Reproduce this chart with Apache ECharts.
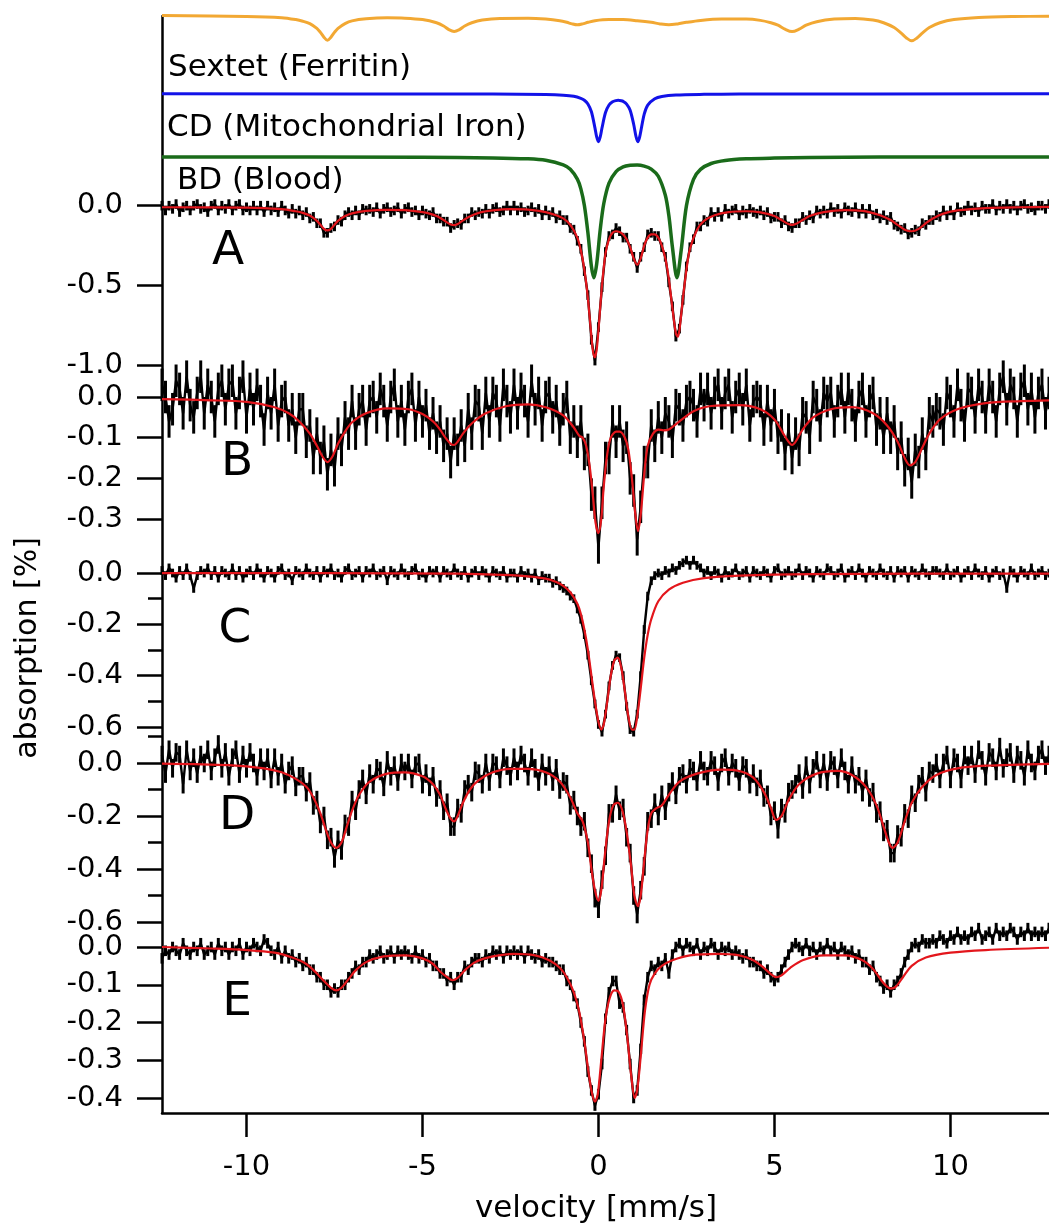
<!DOCTYPE html>
<html>
<head>
<meta charset="utf-8">
<script src="https://cdn.jsdelivr.net/npm/echarts@6.0.0/dist/echarts.min.js"></script>
<style>
html, body { margin: 0; padding: 0; background: #ffffff; }
#chart { width: 1049px; height: 1226px; }
</style>
</head>
<body>
<div id="chart"></div>
<script>
// Velocity channels of the spectrometer (mm/s)
const velocity = [
-12.4,-12.3,-12.2,-12.1,-12.0,-11.9,-11.8,-11.7,-11.6,-11.5,
-11.4,-11.3,-11.2,-11.1,-11.0,-10.9,-10.8,-10.7,-10.6,-10.5,
-10.4,-10.3,-10.2,-10.1,-10.0,-9.9,-9.8,-9.7,-9.6,-9.5,
-9.4,-9.3,-9.2,-9.1,-9.0,-8.9,-8.8,-8.7,-8.6,-8.5,
-8.4,-8.3,-8.2,-8.1,-8.0,-7.9,-7.8,-7.7,-7.6,-7.5,
-7.4,-7.3,-7.2,-7.1,-7.0,-6.9,-6.8,-6.7,-6.6,-6.5,
-6.4,-6.3,-6.2,-6.1,-6.0,-5.9,-5.8,-5.7,-5.6,-5.5,
-5.4,-5.3,-5.2,-5.1,-5.0,-4.9,-4.8,-4.7,-4.6,-4.5,
-4.4,-4.3,-4.2,-4.1,-4.0,-3.9,-3.8,-3.7,-3.6,-3.5,
-3.4,-3.3,-3.2,-3.1,-3.0,-2.9,-2.8,-2.7,-2.6,-2.5,
-2.4,-2.3,-2.2,-2.1,-2.0,-1.9,-1.8,-1.7,-1.6,-1.5,
-1.4,-1.3,-1.2,-1.1,-1.0,-0.9,-0.8,-0.7,-0.6,-0.5,
-0.4,-0.3,-0.2,-0.1,0.0,0.1,0.2,0.3,0.4,0.5,
0.6,0.7,0.8,0.9,1.0,1.1,1.2,1.3,1.4,1.5,
1.6,1.7,1.8,1.9,2.0,2.1,2.2,2.3,2.4,2.5,
2.6,2.7,2.8,2.9,3.0,3.1,3.2,3.3,3.4,3.5,
3.6,3.7,3.8,3.9,4.0,4.1,4.2,4.3,4.4,4.5,
4.6,4.7,4.8,4.9,5.0,5.1,5.2,5.3,5.4,5.5,
5.6,5.7,5.8,5.9,6.0,6.1,6.2,6.3,6.4,6.5,
6.6,6.7,6.8,6.9,7.0,7.1,7.2,7.3,7.4,7.5,
7.6,7.7,7.8,7.9,8.0,8.1,8.2,8.3,8.4,8.5,
8.6,8.7,8.8,8.9,9.0,9.1,9.2,9.3,9.4,9.5,
9.6,9.7,9.8,9.9,10.0,10.1,10.2,10.3,10.4,10.5,
10.6,10.7,10.8,10.9,11.0,11.1,11.2,11.3,11.4,11.5,
11.6,11.7,11.8,11.9,12.0,12.1,12.2,12.3,12.4,12.5,
12.6,12.7,12.8
];

// Measured absorption (%) per channel, spectra A-E
const absorbA = [
0.00,-0.03,0.00,-0.02,0.01,-0.04,-0.01,0.00,-0.03,0.00,
0.01,-0.02,-0.01,-0.04,0.00,0.01,-0.03,0.00,-0.02,0.01,
-0.03,0.00,0.01,-0.03,-0.01,-0.03,0.00,-0.03,0.00,-0.04,
0.00,-0.03,-0.01,-0.04,0.00,-0.03,-0.05,-0.02,-0.05,-0.03,
-0.06,-0.04,-0.08,-0.07,-0.11,-0.11,-0.17,-0.17,-0.14,-0.13,
-0.09,-0.10,-0.06,-0.04,-0.06,-0.03,-0.06,-0.02,-0.03,-0.02,
-0.04,-0.01,-0.05,-0.02,-0.01,-0.04,-0.03,-0.01,-0.05,-0.02,
-0.01,-0.04,-0.03,-0.06,-0.03,-0.05,-0.06,-0.04,-0.08,-0.08,
-0.10,-0.10,-0.14,-0.12,-0.11,-0.12,-0.08,-0.08,-0.04,-0.06,
-0.04,-0.05,-0.02,-0.05,-0.02,-0.01,-0.04,-0.03,0.00,-0.03,
0.00,-0.03,-0.01,-0.04,-0.03,-0.01,-0.04,-0.02,-0.06,-0.03,
-0.06,-0.04,-0.08,-0.06,-0.09,-0.09,-0.14,-0.15,-0.22,-0.27,
-0.41,-0.56,-0.84,-0.97,-0.76,-0.51,-0.29,-0.19,-0.18,-0.14,
-0.16,-0.20,-0.20,-0.27,-0.32,-0.39,-0.32,-0.26,-0.18,-0.17,
-0.19,-0.19,-0.26,-0.32,-0.48,-0.63,-0.82,-0.77,-0.59,-0.38,
-0.26,-0.21,-0.13,-0.13,-0.09,-0.10,-0.04,-0.07,-0.04,-0.07,
-0.02,-0.05,-0.03,-0.02,-0.06,-0.03,-0.05,-0.02,-0.04,-0.05,
-0.03,-0.06,-0.04,-0.08,-0.07,-0.07,-0.11,-0.09,-0.13,-0.14,
-0.11,-0.11,-0.07,-0.09,-0.06,-0.08,-0.03,-0.05,-0.03,-0.05,
-0.01,-0.04,-0.02,-0.05,-0.01,-0.03,-0.04,-0.01,-0.05,-0.02,
-0.05,-0.02,-0.06,-0.05,-0.08,-0.06,-0.09,-0.07,-0.12,-0.13,
-0.15,-0.14,-0.18,-0.17,-0.15,-0.16,-0.11,-0.12,-0.09,-0.09,
-0.06,-0.07,-0.03,-0.06,-0.03,-0.06,-0.01,-0.04,-0.03,0.00,
-0.03,-0.01,-0.04,0.00,-0.02,-0.02,0.01,-0.03,0.00,-0.02,
0.01,-0.02,0.00,-0.03,0.00,0.01,-0.02,-0.01,-0.03,0.00,
0.00,-0.02,0.01
];
const absorbB = [
0.03,0.00,-0.06,-0.03,0.04,0.02,-0.04,0.05,-0.02,-0.05,
0.01,0.05,-0.04,0.03,0.00,-0.06,0.02,0.04,-0.03,0.03,
0.04,-0.04,0.01,0.05,-0.05,0.02,-0.03,0.03,-0.01,-0.08,
0.01,-0.04,0.03,-0.07,-0.01,0.00,-0.07,-0.03,-0.10,-0.03,
-0.03,-0.11,-0.07,-0.15,-0.09,-0.15,-0.11,-0.19,-0.13,-0.18,
-0.09,-0.13,-0.05,-0.09,-0.01,-0.09,-0.03,-0.01,-0.08,-0.01,
0.00,-0.05,0.02,-0.01,-0.07,0.00,0.03,-0.06,-0.01,-0.08,
0.00,0.02,-0.07,0.00,-0.06,-0.02,-0.09,-0.04,-0.10,-0.06,
-0.12,-0.09,-0.16,-0.09,-0.13,-0.07,-0.12,-0.03,-0.09,-0.01,
-0.02,-0.09,0.01,-0.06,0.01,-0.01,-0.07,0.03,-0.01,-0.05,
0.03,-0.04,0.02,-0.01,-0.06,0.04,-0.03,0.01,-0.07,0.00,
0.01,-0.05,-0.01,-0.08,-0.03,0.00,-0.10,-0.06,-0.11,-0.06,
-0.14,-0.13,-0.24,-0.26,-0.37,-0.26,-0.15,-0.15,-0.06,-0.11,
-0.06,-0.12,-0.10,-0.20,-0.23,-0.35,-0.27,-0.16,-0.16,-0.07,
-0.12,-0.05,-0.10,-0.04,-0.06,-0.11,-0.02,-0.03,-0.07,-0.01,
0.00,-0.02,-0.06,0.02,-0.02,0.02,-0.04,0.01,0.03,-0.04,
0.01,0.03,-0.05,0.00,0.02,-0.03,0.03,-0.07,-0.01,0.00,
-0.01,-0.08,-0.01,-0.07,-0.02,-0.10,-0.07,-0.14,-0.08,-0.15,
-0.09,-0.13,-0.04,-0.05,-0.10,0.00,-0.02,-0.07,0.01,-0.01,
0.01,-0.06,-0.01,0.02,-0.05,0.02,-0.02,-0.07,0.00,0.02,
-0.06,-0.01,0.01,-0.08,-0.04,-0.10,-0.04,-0.10,-0.06,-0.14,
-0.10,-0.18,-0.14,-0.21,-0.13,-0.16,-0.09,-0.14,-0.04,-0.06,
-0.03,-0.04,-0.08,0.01,-0.01,-0.06,0.03,-0.02,-0.07,0.02,
0.01,-0.05,0.03,0.00,-0.05,0.03,0.00,-0.06,0.02,0.05,
-0.03,0.03,0.01,-0.06,0.02,0.04,-0.03,0.02,-0.05,0.01,
0.03,-0.04,0.01
];
const absorbC = [
0.01,-0.01,0.02,0.00,-0.02,0.01,-0.01,0.02,-0.01,-0.06,
-0.01,0.01,0.00,0.02,-0.01,0.01,-0.02,0.01,0.00,-0.01,
0.02,-0.01,0.01,-0.02,0.00,0.01,-0.01,0.02,0.00,-0.02,
0.01,0.00,-0.02,0.01,0.02,-0.01,0.00,-0.03,0.01,0.00,
-0.01,0.02,0.00,-0.01,0.01,-0.02,0.01,0.00,0.02,-0.01,
0.00,-0.02,0.01,0.02,-0.01,0.00,0.01,-0.02,0.01,0.00,
0.02,-0.01,0.00,0.01,-0.03,0.01,0.00,-0.01,0.02,0.00,
-0.01,0.01,0.02,-0.01,0.00,-0.02,0.01,0.00,0.01,-0.02,
0.01,0.00,-0.01,0.02,0.00,-0.01,0.01,-0.02,0.00,0.01,
-0.01,0.01,0.00,-0.02,0.01,0.00,-0.01,0.01,-0.02,0.00,
0.00,-0.02,0.01,-0.01,0.00,-0.02,0.00,-0.03,-0.01,-0.02,
-0.02,-0.04,-0.03,-0.05,-0.06,-0.07,-0.09,-0.10,-0.14,-0.18,
-0.24,-0.32,-0.42,-0.51,-0.59,-0.62,-0.55,-0.44,-0.36,-0.32,
-0.33,-0.40,-0.52,-0.61,-0.62,-0.55,-0.40,-0.22,-0.09,-0.03,
-0.01,0.00,-0.01,0.01,0.00,0.02,0.01,0.03,0.04,0.05,
0.03,0.05,0.03,0.02,0.00,0.01,-0.01,0.01,0.00,-0.02,
0.01,-0.01,0.00,0.02,-0.01,0.00,0.01,-0.02,0.01,0.00,
-0.01,0.01,0.00,-0.02,0.01,0.02,-0.01,0.00,0.01,-0.01,
0.00,0.02,-0.01,0.01,0.00,-0.02,0.01,0.00,-0.01,0.02,
0.01,-0.01,0.00,0.02,-0.02,0.00,0.01,-0.01,0.02,0.00,
-0.02,0.01,0.00,-0.01,0.02,0.00,-0.01,0.01,-0.02,0.01,
0.00,0.01,-0.02,0.01,0.00,-0.01,0.02,0.00,-0.01,0.01,
0.01,0.00,-0.01,0.02,-0.01,0.00,0.01,-0.02,0.00,0.01,
-0.01,0.02,0.00,-0.01,0.01,-0.02,0.00,0.01,-0.01,0.00,
-0.06,0.01,0.00,-0.02,0.01,0.00,-0.01,0.02,-0.01,0.00,
0.01,-0.01,0.00
];
const absorbD = [
0.03,-0.04,0.05,-0.02,0.04,0.03,-0.08,0.05,-0.03,0.02,
-0.04,0.03,0.00,0.05,-0.03,0.02,0.07,-0.02,0.04,-0.05,
0.02,0.05,-0.04,0.03,-0.02,0.04,0.00,-0.05,0.02,-0.03,
0.02,-0.06,0.02,-0.05,0.00,-0.08,-0.03,-0.01,-0.09,-0.05,
-0.05,-0.11,-0.07,-0.16,-0.14,-0.23,-0.20,-0.29,-0.28,-0.36,
-0.29,-0.33,-0.23,-0.24,-0.14,-0.18,-0.10,-0.06,-0.12,-0.04,
-0.08,-0.02,-0.03,-0.09,0.01,-0.05,-0.01,-0.07,0.00,-0.03,
0.00,-0.06,-0.01,0.00,-0.08,-0.04,-0.09,-0.05,-0.13,-0.10,
-0.18,-0.15,-0.24,-0.24,-0.17,-0.19,-0.10,-0.08,-0.11,-0.03,
-0.04,-0.08,0.00,-0.07,0.00,-0.01,-0.06,0.02,-0.01,-0.05,
0.02,-0.03,0.03,0.00,-0.05,0.02,-0.02,-0.07,0.00,-0.05,
-0.01,-0.07,-0.02,-0.10,-0.07,-0.08,-0.16,-0.14,-0.20,-0.24,
-0.22,-0.32,-0.38,-0.51,-0.55,-0.44,-0.35,-0.19,-0.19,-0.12,
-0.18,-0.17,-0.28,-0.34,-0.50,-0.57,-0.48,-0.39,-0.22,-0.21,
-0.15,-0.20,-0.12,-0.18,-0.11,-0.07,-0.12,-0.05,-0.04,-0.08,
-0.02,-0.03,-0.07,0.01,-0.03,-0.05,0.01,-0.01,-0.07,0.00,
0.02,-0.05,0.00,-0.02,-0.07,-0.01,-0.02,-0.08,-0.04,-0.09,
-0.06,-0.13,-0.12,-0.20,-0.18,-0.25,-0.17,-0.19,-0.11,-0.10,
-0.08,-0.04,-0.10,-0.01,-0.08,-0.02,0.01,-0.06,0.00,-0.07,
0.01,-0.01,-0.06,0.02,-0.03,-0.08,-0.01,-0.08,-0.05,-0.11,
-0.06,-0.13,-0.11,-0.19,-0.18,-0.26,-0.25,-0.34,-0.34,-0.27,
-0.28,-0.19,-0.21,-0.12,-0.15,-0.08,-0.05,-0.11,-0.03,-0.04,
0.00,-0.06,0.00,0.03,-0.06,0.02,0.00,-0.06,0.03,-0.01,
0.03,-0.04,0.05,0.01,-0.05,0.04,0.02,-0.03,0.06,-0.02,
0.02,0.04,-0.04,0.03,0.01,-0.05,0.05,0.00,-0.03,0.03,
0.05,-0.01,0.03
];
const absorbE = [
-0.03,-0.01,-0.02,0.00,-0.01,-0.02,0.01,-0.01,-0.02,0.00,
-0.01,0.01,-0.02,-0.01,0.00,-0.02,0.01,-0.01,0.00,-0.02,
0.00,-0.01,0.01,-0.02,0.00,-0.01,0.01,0.00,-0.01,0.02,
0.01,-0.01,-0.02,0.00,-0.03,-0.01,-0.03,-0.02,-0.04,-0.03,
-0.05,-0.04,-0.06,-0.06,-0.08,-0.08,-0.10,-0.10,-0.12,-0.11,
-0.12,-0.10,-0.10,-0.08,-0.07,-0.05,-0.06,-0.04,-0.04,-0.02,
-0.03,-0.02,-0.01,-0.03,-0.02,-0.01,-0.03,-0.01,-0.02,-0.01,
-0.02,-0.03,-0.01,-0.03,-0.02,-0.04,-0.03,-0.05,-0.05,-0.07,
-0.07,-0.09,-0.08,-0.10,-0.08,-0.08,-0.05,-0.06,-0.04,-0.03,
-0.03,-0.04,-0.02,-0.03,-0.01,-0.02,-0.01,-0.03,-0.01,-0.02,
-0.01,-0.02,-0.01,-0.03,-0.01,-0.02,-0.03,-0.02,-0.04,-0.03,
-0.04,-0.04,-0.05,-0.06,-0.06,-0.09,-0.10,-0.13,-0.15,-0.20,
-0.25,-0.33,-0.38,-0.42,-0.39,-0.31,-0.19,-0.12,-0.09,-0.09,
-0.15,-0.16,-0.22,-0.31,-0.40,-0.38,-0.27,-0.14,-0.08,-0.05,
-0.06,-0.04,-0.05,-0.03,-0.07,-0.02,0.00,0.01,-0.01,0.01,
0.00,-0.01,0.01,-0.02,0.00,-0.01,0.01,0.00,-0.02,0.00,
-0.01,0.00,-0.02,-0.01,-0.02,-0.03,-0.02,-0.04,-0.04,-0.05,
-0.05,-0.07,-0.06,-0.08,-0.09,-0.08,-0.06,-0.04,-0.02,0.00,
0.01,0.00,-0.01,0.01,-0.01,0.00,-0.02,0.00,-0.01,0.01,
-0.01,0.00,-0.02,0.00,-0.01,-0.02,-0.01,-0.03,-0.02,-0.04,
-0.04,-0.06,-0.05,-0.08,-0.09,-0.11,-0.10,-0.12,-0.10,-0.09,
-0.07,-0.04,-0.02,0.00,0.01,0.00,0.02,0.01,0.01,0.02,
0.01,0.03,0.02,0.01,0.03,0.02,0.04,0.02,0.03,0.02,
0.04,0.03,0.05,0.02,0.03,0.04,0.02,0.05,0.03,0.04,
0.03,0.05,0.04,0.02,0.04,0.03,0.05,0.03,0.04,0.03,
0.04,0.03,0.05
];

// Statistical uncertainty (half error bar, %) of each spectrum
const errA = 0.03, errB = 0.04, errC = 0.017, errD = 0.035, errE = 0.014;

// Fitted transmission curves [velocity, absorption]
const fitA = [[-12.4,-0.01],[-10,-0.012],[-9,-0.022],[-8.6,-0.035],[-8.4,-0.045],[-8.2,-0.062],[-8.0,-0.095],[-7.9,-0.12],[-7.8,-0.145],[-7.7,-0.155],[-7.6,-0.145],[-7.5,-0.12],[-7.4,-0.095],[-7.2,-0.065],[-7.0,-0.048],[-6.6,-0.033],[-6.0,-0.026],[-5.5,-0.028],[-5.0,-0.04],[-4.8,-0.05],[-4.6,-0.065],[-4.4,-0.09],[-4.3,-0.105],[-4.2,-0.118],[-4.1,-0.122],[-4.0,-0.115],[-3.9,-0.1],[-3.7,-0.072],[-3.4,-0.045],[-3.0,-0.03],[-2.5,-0.022],[-2.0,-0.025],[-1.5,-0.04],[-1.2,-0.06],[-1.0,-0.08],[-0.8,-0.12],[-0.6,-0.2],[-0.5,-0.28],[-0.4,-0.4],[-0.3,-0.58],[-0.2,-0.82],[-0.15,-0.92],[-0.1,-0.95],[-0.05,-0.9],[0.0,-0.78],[0.1,-0.5],[0.2,-0.3],[0.3,-0.21],[0.4,-0.17],[0.5,-0.16],[0.6,-0.165],[0.7,-0.18],[0.8,-0.21],[0.9,-0.26],[1.0,-0.33],[1.1,-0.37],[1.2,-0.33],[1.3,-0.25],[1.4,-0.2],[1.5,-0.18],[1.6,-0.18],[1.7,-0.2],[1.8,-0.25],[1.9,-0.33],[2.0,-0.46],[2.1,-0.64],[2.2,-0.8],[2.25,-0.82],[2.3,-0.78],[2.4,-0.58],[2.5,-0.4],[2.6,-0.27],[2.8,-0.15],[3.0,-0.095],[3.3,-0.06],[3.7,-0.04],[4.2,-0.035],[4.6,-0.042],[5.0,-0.065],[5.2,-0.09],[5.4,-0.115],[5.5,-0.12],[5.6,-0.115],[5.8,-0.09],[6.0,-0.065],[6.4,-0.04],[7.0,-0.028],[7.5,-0.032],[8.0,-0.06],[8.3,-0.09],[8.5,-0.12],[8.7,-0.15],[8.9,-0.16],[9.1,-0.145],[9.3,-0.11],[9.5,-0.08],[9.8,-0.05],[10.2,-0.03],[11.0,-0.015],[12.0,-0.01],[12.8,-0.008]];
const fitB = [[-12.4,-0.005],[-11,-0.008],[-10,-0.012],[-9.2,-0.025],[-8.8,-0.04],[-8.5,-0.06],[-8.2,-0.09],[-8.0,-0.12],[-7.85,-0.145],[-7.7,-0.16],[-7.55,-0.145],[-7.4,-0.115],[-7.2,-0.085],[-7.0,-0.062],[-6.6,-0.04],[-6.0,-0.028],[-5.4,-0.03],[-5.0,-0.042],[-4.7,-0.06],[-4.5,-0.08],[-4.35,-0.1],[-4.2,-0.115],[-4.1,-0.118],[-4.0,-0.11],[-3.85,-0.09],[-3.6,-0.065],[-3.2,-0.04],[-2.6,-0.022],[-2.0,-0.018],[-1.5,-0.025],[-1.0,-0.045],[-0.7,-0.075],[-0.55,-0.095],[-0.45,-0.1],[-0.35,-0.12],[-0.25,-0.17],[-0.15,-0.25],[-0.08,-0.31],[0.0,-0.335],[0.08,-0.3],[0.15,-0.22],[0.25,-0.14],[0.35,-0.1],[0.5,-0.085],[0.6,-0.085],[0.75,-0.1],[0.85,-0.13],[0.95,-0.2],[1.05,-0.29],[1.12,-0.33],[1.2,-0.29],[1.3,-0.19],[1.4,-0.12],[1.55,-0.09],[1.7,-0.08],[1.85,-0.082],[2.0,-0.08],[2.3,-0.06],[2.7,-0.035],[3.2,-0.022],[4.0,-0.02],[4.6,-0.03],[5.0,-0.055],[5.25,-0.09],[5.4,-0.11],[5.5,-0.118],[5.6,-0.11],[5.8,-0.08],[6.1,-0.05],[6.6,-0.03],[7.2,-0.025],[7.8,-0.04],[8.2,-0.07],[8.5,-0.11],[8.7,-0.15],[8.85,-0.168],[9.0,-0.16],[9.2,-0.125],[9.4,-0.09],[9.7,-0.055],[10.2,-0.03],[11,-0.015],[12,-0.01],[12.8,-0.008]];
const fitC = [[-12.4,0],[-4,-0.002],[-2.5,-0.008],[-2.0,-0.013],[-1.5,-0.022],[-1.2,-0.035],[-1.0,-0.05],[-0.8,-0.075],[-0.6,-0.12],[-0.5,-0.16],[-0.4,-0.22],[-0.3,-0.3],[-0.2,-0.4],[-0.1,-0.5],[0.0,-0.58],[0.08,-0.61],[0.15,-0.59],[0.25,-0.5],[0.35,-0.4],[0.45,-0.34],[0.55,-0.33],[0.65,-0.37],[0.75,-0.46],[0.85,-0.56],[0.95,-0.61],[1.02,-0.61],[1.1,-0.56],[1.2,-0.45],[1.3,-0.33],[1.4,-0.24],[1.5,-0.18],[1.7,-0.11],[2.0,-0.065],[2.4,-0.038],[3.0,-0.02],[4.0,-0.01],[6,-0.004],[12.8,-0.002]];
const fitD = [[-12.4,-0.002],[-10.5,-0.008],[-9.5,-0.02],[-9.0,-0.035],[-8.6,-0.06],[-8.3,-0.09],[-8.1,-0.13],[-7.9,-0.19],[-7.75,-0.25],[-7.6,-0.3],[-7.45,-0.32],[-7.3,-0.3],[-7.15,-0.24],[-7.0,-0.18],[-6.8,-0.12],[-6.5,-0.07],[-6.0,-0.04],[-5.5,-0.035],[-5.0,-0.05],[-4.7,-0.08],[-4.5,-0.12],[-4.35,-0.17],[-4.2,-0.21],[-4.1,-0.22],[-4.0,-0.2],[-3.85,-0.15],[-3.65,-0.1],[-3.4,-0.065],[-3.0,-0.035],[-2.5,-0.022],[-2.0,-0.022],[-1.5,-0.035],[-1.1,-0.07],[-0.8,-0.13],[-0.6,-0.19],[-0.45,-0.22],[-0.3,-0.3],[-0.2,-0.4],[-0.1,-0.48],[0.0,-0.52],[0.08,-0.48],[0.18,-0.35],[0.3,-0.22],[0.42,-0.16],[0.55,-0.15],[0.68,-0.18],[0.8,-0.26],[0.92,-0.38],[1.02,-0.5],[1.12,-0.54],[1.2,-0.5],[1.3,-0.37],[1.4,-0.25],[1.5,-0.19],[1.65,-0.17],[1.8,-0.16],[2.0,-0.12],[2.3,-0.07],[2.8,-0.04],[3.5,-0.025],[4.0,-0.03],[4.4,-0.055],[4.7,-0.11],[4.9,-0.17],[5.05,-0.215],[5.2,-0.2],[5.4,-0.14],[5.7,-0.08],[6.2,-0.04],[6.8,-0.03],[7.2,-0.045],[7.6,-0.09],[7.9,-0.16],[8.1,-0.24],[8.25,-0.3],[8.35,-0.32],[8.5,-0.3],[8.7,-0.22],[8.9,-0.15],[9.2,-0.09],[9.6,-0.045],[10.2,-0.02],[11.0,-0.01],[12.8,-0.003]];
const fitE = [[-12.4,0.0],[-11,-0.004],[-10,-0.008],[-9.2,-0.015],[-8.7,-0.028],[-8.3,-0.045],[-8.0,-0.07],[-7.8,-0.09],[-7.6,-0.108],[-7.45,-0.115],[-7.3,-0.108],[-7.1,-0.085],[-6.9,-0.062],[-6.6,-0.04],[-6.1,-0.025],[-5.5,-0.022],[-5.0,-0.03],[-4.7,-0.045],[-4.5,-0.065],[-4.3,-0.08],[-4.15,-0.088],[-4.0,-0.082],[-3.8,-0.062],[-3.5,-0.04],[-3.0,-0.025],[-2.4,-0.018],[-1.8,-0.022],[-1.4,-0.035],[-1.1,-0.055],[-0.9,-0.08],[-0.7,-0.12],[-0.55,-0.17],[-0.4,-0.25],[-0.3,-0.32],[-0.2,-0.38],[-0.1,-0.41],[-0.02,-0.39],[0.08,-0.3],[0.2,-0.19],[0.32,-0.135],[0.45,-0.115],[0.58,-0.12],[0.7,-0.155],[0.82,-0.24],[0.93,-0.34],[1.03,-0.4],[1.1,-0.38],[1.2,-0.29],[1.32,-0.17],[1.45,-0.1],[1.6,-0.07],[1.8,-0.05],[2.1,-0.035],[2.6,-0.022],[3.4,-0.018],[4.0,-0.022],[4.4,-0.035],[4.7,-0.055],[4.9,-0.072],[5.05,-0.08],[5.2,-0.075],[5.45,-0.055],[5.8,-0.035],[6.4,-0.022],[7.0,-0.022],[7.5,-0.035],[7.8,-0.058],[8.05,-0.09],[8.2,-0.105],[8.3,-0.11],[8.45,-0.105],[8.65,-0.08],[8.9,-0.05],[9.3,-0.028],[10.0,-0.015],[11,-0.008],[12.8,-0.002]];

// Sub-spectra of the fit to spectrum A (absorption relative to their own baseline)
const compSextet = [[-12.4,0],[-10,-0.005],[-9,-0.013],[-8.6,-0.025],[-8.4,-0.035],[-8.2,-0.05],[-8.0,-0.08],[-7.9,-0.105],[-7.8,-0.135],[-7.7,-0.155],[-7.6,-0.135],[-7.5,-0.105],[-7.4,-0.08],[-7.2,-0.05],[-7.0,-0.033],[-6.6,-0.02],[-6.0,-0.014],[-5.5,-0.016],[-5.0,-0.025],[-4.6,-0.045],[-4.4,-0.065],[-4.25,-0.088],[-4.1,-0.1],[-3.95,-0.088],[-3.8,-0.065],[-3.6,-0.045],[-3.3,-0.028],[-2.8,-0.018],[-2.0,-0.017],[-1.5,-0.022],[-1.1,-0.032],[-0.9,-0.042],[-0.75,-0.052],[-0.6,-0.058],[-0.45,-0.052],[-0.3,-0.042],[-0.1,-0.032],[0.3,-0.025],[0.7,-0.025],[1.1,-0.032],[1.5,-0.042],[1.75,-0.052],[2.0,-0.058],[2.25,-0.052],[2.5,-0.042],[2.9,-0.03],[3.5,-0.022],[4.2,-0.022],[4.6,-0.03],[4.9,-0.045],[5.1,-0.06],[5.3,-0.085],[5.5,-0.1],[5.7,-0.085],[5.9,-0.06],[6.2,-0.038],[6.7,-0.022],[7.3,-0.018],[7.8,-0.028],[8.1,-0.045],[8.4,-0.075],[8.6,-0.11],[8.75,-0.14],[8.9,-0.158],[9.05,-0.14],[9.2,-0.11],[9.4,-0.075],[9.7,-0.045],[10.1,-0.025],[10.8,-0.012],[11.8,-0.006],[12.8,-0.004]];
const compCD = [[-12.4,0],[-3,-0.001],[-1.5,-0.004],[-1.0,-0.008],[-0.7,-0.015],[-0.5,-0.028],[-0.4,-0.04],[-0.3,-0.063],[-0.2,-0.112],[-0.1,-0.213],[-0.05,-0.27],[0,-0.3],[0.05,-0.27],[0.1,-0.214],[0.2,-0.117],[0.3,-0.07],[0.4,-0.05],[0.5,-0.042],[0.56,-0.04],[0.65,-0.043],[0.7,-0.047],[0.8,-0.064],[0.9,-0.103],[1.0,-0.19],[1.07,-0.27],[1.12,-0.3],[1.17,-0.27],[1.2,-0.238],[1.3,-0.127],[1.4,-0.07],[1.6,-0.03],[1.8,-0.016],[2.2,-0.007],[3.0,-0.003],[4.0,-0.001],[12.8,0]];
const compBD = [[-12.4,0],[-5,-0.002],[-3,-0.006],[-2,-0.012],[-1.5,-0.021],[-1.0,-0.049],[-0.8,-0.077],[-0.6,-0.139],[-0.5,-0.2],[-0.4,-0.304],[-0.3,-0.474],[-0.2,-0.686],[-0.13,-0.756],[-0.05,-0.668],[0.05,-0.455],[0.15,-0.293],[0.3,-0.164],[0.5,-0.092],[0.7,-0.062],[0.9,-0.052],[1.1,-0.05],[1.3,-0.057],[1.5,-0.076],[1.7,-0.121],[1.9,-0.24],[2.0,-0.367],[2.1,-0.562],[2.23,-0.757],[2.35,-0.584],[2.5,-0.305],[2.7,-0.14],[2.9,-0.078],[3.2,-0.041],[3.6,-0.022],[4.2,-0.012],[5,-0.007],[6,-0.003],[8,-0.001],[12.8,0]];
const compNames = ['Sextet (Ferritin)', 'CD (Mitochondrial Iron)', 'BD (Blood)'];

// Axis ticks
const velocityTicks = [-10, -5, 0, 5, 10];
const ticksA = [0, -0.5, -1.0];
const ticksB = [0, -0.1, -0.2, -0.3];
const ticksC = [0, -0.2, -0.4, -0.6];
const minorC = [-0.1, -0.3, -0.5];
const ticksD = [0, -0.2, -0.4, -0.6];
const minorD = [0.1, -0.1, -0.3, -0.5];
const ticksE = [0, -0.1, -0.2, -0.3, -0.4];
const panelNames = ['A', 'B', 'C', 'D', 'E'];

// ---------- layout & styling ----------
const FONT = 'DejaVu Sans';
const PLOT_LEFT = 162;
const X_MIN = -12.4, X_MAX = 12.8;
const panels = [
  { data: absorbA, err: errA, fit: fitA, min: -1.0, max: 1.2,   top: 14,    height: 351.4, ticks: ticksA, minor: null,   label: [228, 252] },
  { data: absorbB, err: errB, fit: fitB, min: -0.3, max: 0.08,  top: 364.5, height: 154.5, ticks: ticksB, minor: null,   label: [237, 463] },
  { data: absorbC, err: errC, fit: fitC, min: -0.6, max: 0.2,   top: 521.7, height: 205.3, ticks: ticksC, minor: minorC, label: [235, 630] },
  { data: absorbD, err: errD, fit: fitD, min: -0.6, max: 0.1,   top: 736.5, height: 185.5, ticks: ticksD, minor: minorD, label: [237, 817] },
  { data: absorbE, err: errE, fit: fitE, min: -0.4, max: 0.066, top: 922.1, height: 175.9, ticks: ticksE, minor: null,   label: [237, 1003] }
];
// sub-spectra drawn above spectrum A, each shifted to its own baseline
const components = [
  { data: compSextet, offset: 1.19,  color: '#f2a833', width: 3,   labelPos: [168, 68] },
  { data: compCD,     offset: 0.70,  color: '#1212e8', width: 3,   labelPos: [167, 128] },
  { data: compBD,     offset: 0.305, color: '#1a6b1a', width: 3.5, labelPos: [177, 181] }
];

const grids = [], xAxes = [], yAxes = [], series = [], graphics = [];
const tickLabelStyle = { fontFamily: FONT, fontSize: 29, color: '#000' };

panels.forEach((p, i) => {
  grids.push({ left: PLOT_LEFT, right: 0, top: p.top, height: p.height, containLabel: false, outerBoundsMode: 'none' });
  xAxes.push({ type: 'value', gridIndex: i, min: X_MIN, max: X_MAX, show: false });
  yAxes.push({
    type: 'value', gridIndex: i, min: p.min, max: p.max, position: 'left',
    axisLine: { show: false, onZero: false },
    splitLine: { show: false },
    axisTick: { show: true, customValues: p.ticks, length: 25, lineStyle: { color: '#000', width: 2.5 } },
    axisLabel: { show: true, customValues: p.ticks, margin: 39, ...tickLabelStyle, formatter: v => v.toFixed(1) }
  });
});

// frame carrying the continuous left axis line and the velocity axis
const FRAME = panels.length;
grids.push({ left: PLOT_LEFT, right: 0, top: 16, bottom: 113, containLabel: false, outerBoundsMode: 'none' });
xAxes.push({
  type: 'value', gridIndex: FRAME, min: X_MIN, max: X_MAX, position: 'bottom',
  axisLine: { show: true, onZero: false, lineStyle: { color: '#000', width: 2.5 } },
  splitLine: { show: false },
  axisTick: { show: true, customValues: velocityTicks, length: 24, lineStyle: { color: '#000', width: 2.5 } },
  axisLabel: { show: true, customValues: velocityTicks, margin: 40, ...tickLabelStyle, formatter: v => String(v) }
});
yAxes.push({
  type: 'value', gridIndex: FRAME, min: 0, max: 1, position: 'left',
  axisLine: { show: true, onZero: false, lineStyle: { color: '#000', width: 2.5 } },
  axisTick: { show: false }, axisLabel: { show: false }, splitLine: { show: false }
});

// shorter intermediate ticks for panels C and D
panels.forEach((p, i) => {
  if (!p.minor) return;
  yAxes.push({
    type: 'value', gridIndex: i, min: p.min, max: p.max, position: 'left',
    axisLine: { show: false, onZero: false }, splitLine: { show: false }, axisLabel: { show: false },
    axisTick: { show: true, customValues: p.minor, length: 14, lineStyle: { color: '#000', width: 2.5 } }
  });
});

panels.forEach((p, i) => {
  const points = velocity.map((v, k) => [v, p.data[k]]);
  // error bars of every channel
  series.push({
    type: 'custom', xAxisIndex: i, yAxisIndex: i, z: 1, silent: true, animation: false,
    data: points,
    renderItem: (params, api) => {
      const x = api.value(0), y = api.value(1);
      const a = api.coord([x, y + p.err]);
      const b = api.coord([x, y - p.err]);
      return { type: 'line', shape: { x1: a[0], y1: a[1], x2: b[0], y2: b[1] }, style: { stroke: '#000', lineWidth: 3 } };
    }
  });
  // measured points joined
  series.push({
    type: 'line', xAxisIndex: i, yAxisIndex: i, z: 2, silent: true, animation: false, clip: false,
    data: points, symbol: 'none', lineStyle: { color: '#000', width: 2.4 }
  });
  // fit
  series.push({
    type: 'line', xAxisIndex: i, yAxisIndex: i, z: 3, silent: true, animation: false, clip: false,
    data: p.fit, symbol: 'none', smooth: 0.3, lineStyle: { color: '#e3161c', width: 2.2 }
  });
  graphics.push({
    type: 'text', x: p.label[0], y: p.label[1], z: 10, silent: true,
    style: { text: panelNames[i], fontFamily: FONT, fontSize: 47, fill: '#000',
             align: 'center', verticalAlign: 'middle', textAlign: 'center', textVerticalAlign: 'middle' }
  });
});

components.forEach((c, j) => {
  series.push({
    type: 'line', xAxisIndex: 0, yAxisIndex: 0, z: 4, silent: true, animation: false, clip: false,
    data: c.data.map(([x, y]) => [x, y + c.offset]), symbol: 'none', smooth: 0.3,
    lineStyle: { color: c.color, width: c.width }
  });
  graphics.push({
    type: 'text', x: c.labelPos[0], y: c.labelPos[1], z: 10, silent: true,
    style: { text: compNames[j], fontFamily: FONT, fontSize: 31, fill: '#000',
             align: 'left', verticalAlign: 'middle', textAlign: 'left', textVerticalAlign: 'middle' }
  });
});

// axis titles
graphics.push({
  type: 'text', x: 28, y: 648, rotation: Math.PI / 2, z: 10, silent: true,
  style: { text: 'absorption [%]', fontFamily: FONT, fontSize: 30, fill: '#000',
           align: 'center', verticalAlign: 'middle', textAlign: 'center', textVerticalAlign: 'middle' }
});
graphics.push({
  type: 'text', x: 596, y: 1209, z: 10, silent: true,
  style: { text: 'velocity [mm/s]', fontFamily: FONT, fontSize: 31, fill: '#000',
           align: 'center', verticalAlign: 'middle', textAlign: 'center', textVerticalAlign: 'middle' }
});

const chart = echarts.init(document.getElementById('chart'), null, { renderer: 'canvas' });
chart.setOption({
  backgroundColor: '#ffffff',
  animation: false,
  textStyle: { fontFamily: FONT },
  grid: grids,
  xAxis: xAxes,
  yAxis: yAxes,
  series: series,
  graphic: graphics
});
</script>
</body>
</html>
